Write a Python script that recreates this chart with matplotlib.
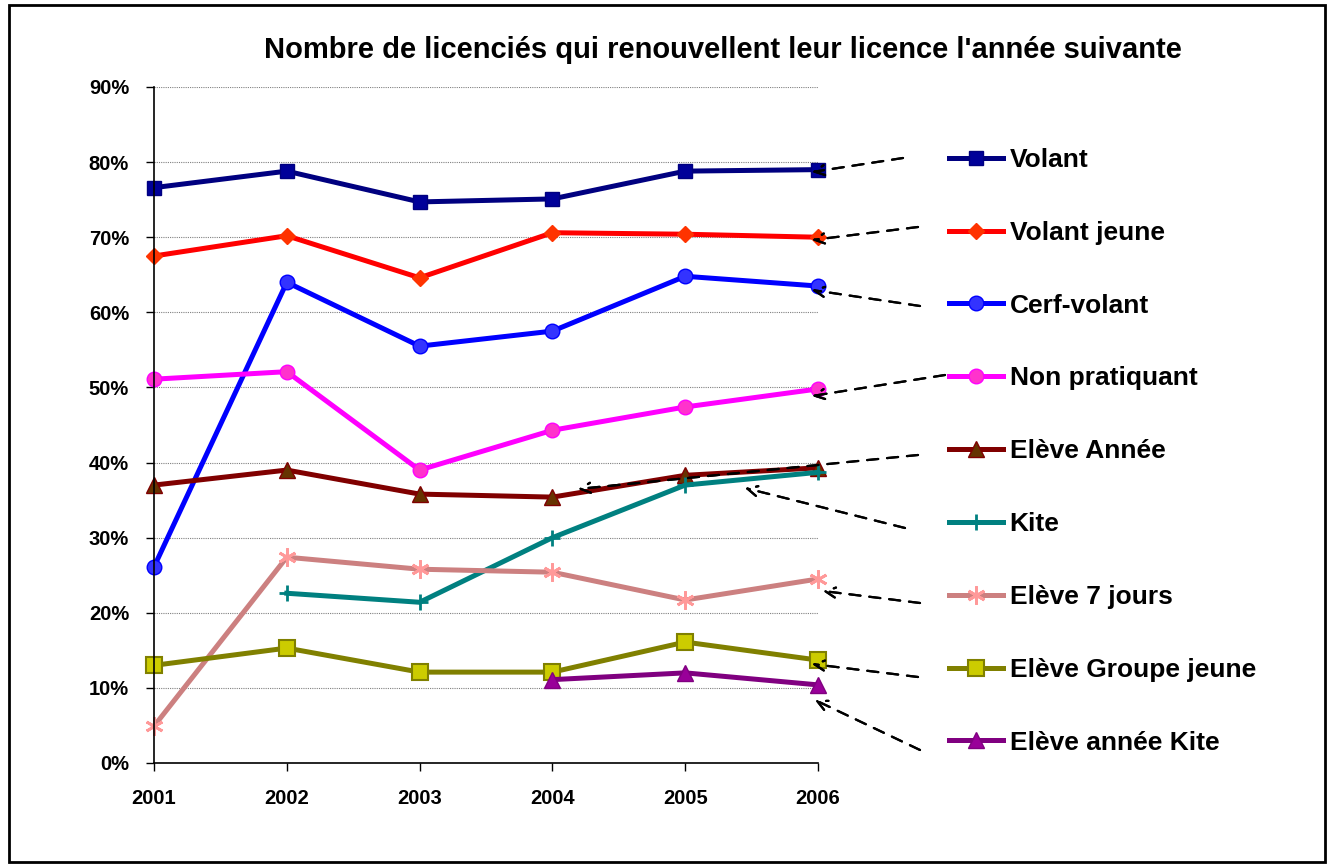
import matplotlib
matplotlib.use('Agg')
import matplotlib.pyplot as plt
from matplotlib.patches import Rectangle
from matplotlib.ticker import PercentFormatter

plt.rcParams['font.family'] = ['Liberation Sans', 'DejaVu Sans']
plt.rcParams['font.weight'] = 'bold'

# data (% of licensees renewing the following year)
years = [2001, 2002, 2003, 2004, 2005, 2006]
volant = [76.6, 78.8, 74.7, 75.1, 78.8, 79.0]
volant_jeune = [67.5, 70.2, 64.6, 70.6, 70.4, 70.0]
cerf_volant = [26.1, 64.0, 55.5, 57.5, 64.8, 63.5]
non_pratiquant = [51.1, 52.1, 39.0, 44.3, 47.4, 49.8]
eleve_annee = [37.0, 39.0, 35.8, 35.4, 38.3, 39.3]
kite_years = [2002, 2003, 2004, 2005, 2006]
kite = [22.6, 21.4, 30.0, 37.0, 38.7]
eleve_7j = [4.9, 27.4, 25.8, 25.4, 21.7, 24.5]
eleve_groupe = [13.0, 15.3, 12.1, 12.1, 16.1, 13.7]
kite_eleve_years = [2004, 2005, 2006]
eleve_annee_kite = [11.1, 12.0, 10.4]

W, H = 1330, 867
fig = plt.figure(figsize=(W / 100, H / 100), dpi=100)
ax = fig.add_axes([154 / W, 1 - 763 / H, (818 - 154) / W, (763 - 87) / H])

lw = 3.6
kw = dict(lw=lw, clip_on=False)
ax.plot(years, volant, color='#000080', marker='s', ms=10.5,
        mfc='#000099', mec='#000080', label='Volant', **kw)
ax.plot(years, volant_jeune, color='#FF0000', marker='D', ms=8,
        mfc='#FF3300', mec='#FF3300', label='Volant jeune', **kw)
ax.plot(years, cerf_volant, color='#0000FF', marker='o', ms=10.5,
        mfc='#3333FF', mec='#0000FF', label='Cerf-volant', **kw)
ax.plot(years, non_pratiquant, color='#FF00FF', marker='o', ms=10.5,
        mfc='#FF33CC', mec='#FF00FF', label='Non pratiquant', **kw)
ax.plot(years, eleve_annee, color='#800000', marker='^', ms=11,
        mfc='#663300', mec='#800000', label='Elève Année', **kw)
ax.plot(kite_years, kite, color='#008080', marker='+', ms=12,
        mew=2, label='Kite', **kw)
ax.plot(years, eleve_7j, color='#CC8080', marker=(6, 2, 0), ms=13,
        mew=2, mec='#FF9999', label='Elève 7 jours', **kw)
ax.plot(years, eleve_groupe, color='#808000', marker='s', ms=12,
        mfc='#CCCC00', mec='#808000', mew=1.5, label='Elève Groupe jeune', **kw)
ax.plot(kite_eleve_years, eleve_annee_kite, color='#800080', marker='^', ms=11,
        mfc='#990099', mec='#800080', label='Elève année Kite', **kw)

ax.set_xlim(2001, 2006)
ax.set_ylim(0, 90)
ax.set_xticks(years)
ax.set_yticks(range(0, 91, 10))
ax.yaxis.set_major_formatter(PercentFormatter(decimals=0))
ax.tick_params(labelsize=14.5, length=6, width=1, color='black')
ax.tick_params(axis='x', pad=13)
ax.tick_params(axis='y', pad=12)
ax.grid(axis='y', color='#808080', ls=(0, (1, 1)), lw=0.8)
ax.set_axisbelow(True)
for s in ['top', 'right']:
    ax.spines[s].set_visible(False)
for s in ['left', 'bottom']:
    ax.spines[s].set_linewidth(1.2)
ax.patch.set_alpha(0)

leg = ax.legend(loc='upper left', bbox_to_anchor=(949 / W, 1 - 148 / H),
                bbox_transform=fig.transFigure, frameon=False, fontsize=19,
                handlelength=2.05, handletextpad=0.25, labelspacing=1.85,
                borderpad=0, borderaxespad=0)

fig.text(723 / W, 1 - 50 / H, "Nombre de licenciés qui renouvellent leur licence l'année suivante",
         ha='center', va='center', fontsize=21, fontweight='bold')

# dashed pointer arrows from legend to line ends
arrows = [((903, 158), (812, 172)), ((918, 227), (812, 240)), ((920, 306), (812, 290)),
          ((945, 375), (812, 396)), ((918, 455), (578, 489)), ((905, 528), (745, 488)),
          ((920, 603), (823, 591)), ((918, 677), (812, 664)), ((920, 750), (815, 700))]
for (x0, y0), (x1, y1) in arrows:
    fig.add_artist(plt.annotate('', xy=(x1 / W, 1 - y1 / H), xytext=(x0 / W, 1 - y0 / H),
                                xycoords='figure fraction', textcoords='figure fraction',
                                arrowprops=dict(arrowstyle='->', ls=(0, (5, 4)), lw=1.6,
                                                color='black', mutation_scale=18,
                                                shrinkA=0, shrinkB=0)))

fig.add_artist(Rectangle((9 / W, 1 - 862 / H), (1325 - 9) / W, (862 - 5) / H,
                         transform=fig.transFigure, fill=False, ec='black', lw=2))

fig.savefig('out.png', dpi=100)
